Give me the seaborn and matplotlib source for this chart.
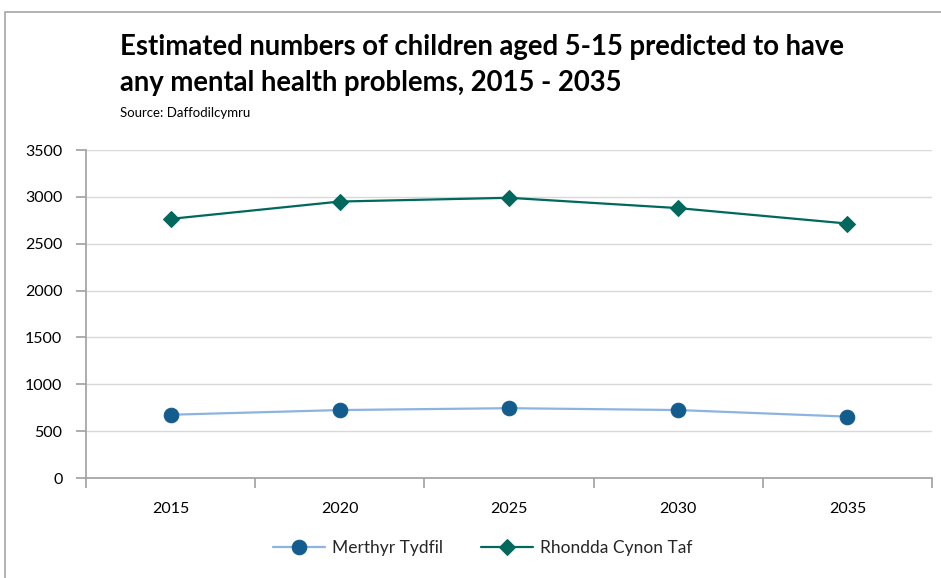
import pandas as pd
import matplotlib.pyplot as plt
import seaborn as sns
from matplotlib.patches import Rectangle

sns.set_theme(style="white")
plt.rcParams['font.family'] = ['Lato', 'DejaVu Sans']

years = ["2015", "2020", "2025", "2030", "2035"]
merthyr = [675, 725, 745, 725, 655]
rhondda = [2765, 2950, 2990, 2880, 2715]

TITLE_1 = "Estimated numbers of children aged 5-15 predicted to have"
TITLE_2 = "any mental health problems, 2015 - 2035"
SOURCE = "Source: Daffodilcymru"


def main():
    df = pd.DataFrame({
        "year": years * 2,
        "value": merthyr + rhondda,
        "area": ["Merthyr Tydfil"] * len(years) + ["Rhondda Cynon Taf"] * len(years),
    })

    fig = plt.figure(figsize=(9.41, 5.78), dpi=100)
    # outer chart frame
    fig.patches.append(Rectangle((5 / 941, -0.1), 1.2, 1 - 12 / 578 + 0.1,
                                 transform=fig.transFigure, fill=False,
                                 edgecolor="#a6a6a6", linewidth=1.2))
    ax = fig.add_axes([86 / 941, 1 - 478 / 578, (932 - 86) / 941, (478 - 150) / 578])

    sns.lineplot(data=df[df.area == "Merthyr Tydfil"], x="year", y="value",
                 color="#8db3e2", linewidth=1.6, marker="o", markersize=10.5,
                 markerfacecolor="#135c8e", markeredgecolor="#135c8e",
                 label="Merthyr Tydfil", ax=ax)
    sns.lineplot(data=df[df.area == "Rhondda Cynon Taf"], x="year", y="value",
                 color="#00685c", linewidth=1.6, marker="D", markersize=8,
                 markerfacecolor="#00685c", markeredgecolor="#00685c",
                 label="Rhondda Cynon Taf", ax=ax)

    ax.set_xlim(-0.5, 4.5)
    ax.set_ylim(0, 3500)
    ax.set_yticks(range(0, 3501, 500))
    ax.set_xlabel("")
    ax.set_ylabel("")
    ax.yaxis.grid(True, color="#d9d9d9", linewidth=1)
    ax.set_axisbelow(True)
    for side in ["top", "right"]:
        ax.spines[side].set_visible(False)
    for side in ["left", "bottom"]:
        ax.spines[side].set_color("#a0a0a0")
        ax.spines[side].set_linewidth(1.2)

    ax.set_xticks([i - 0.5 for i in range(6)], minor=True)
    ax.tick_params(axis="x", which="major", length=0, pad=17, labelsize=11.5, colors="#000000")
    ax.tick_params(axis="x", which="minor", length=7, width=1.2, color="#a0a0a0", direction="out", bottom=True)
    ax.tick_params(axis="y", which="major", length=7, width=1.2, color="#a0a0a0", left=True,
                   labelsize=11.5, colors="#000000", pad=10)

    fig.text(120 / 941, 1 - 47 / 578, TITLE_1, fontsize=19.8, fontweight="bold",
             va="center", ha="left", color="#000000")
    fig.text(120 / 941, 1 - 83 / 578, TITLE_2, fontsize=19.8, fontweight="bold",
             va="center", ha="left", color="#000000")
    fig.text(120 / 941, 1 - 113 / 578, SOURCE, fontsize=9.5, va="center", ha="left",
             color="#000000")

    ax.legend(loc="center", bbox_to_anchor=((483 - 86) / 846, -(548 - 478) / 328),
              ncol=2, frameon=False, fontsize=12.5, handlelength=3.0,
              handletextpad=0.4, columnspacing=2.2)

    fig.savefig("out.png", dpi=100)
    plt.close(fig)


if __name__ == "__main__":
    main()
